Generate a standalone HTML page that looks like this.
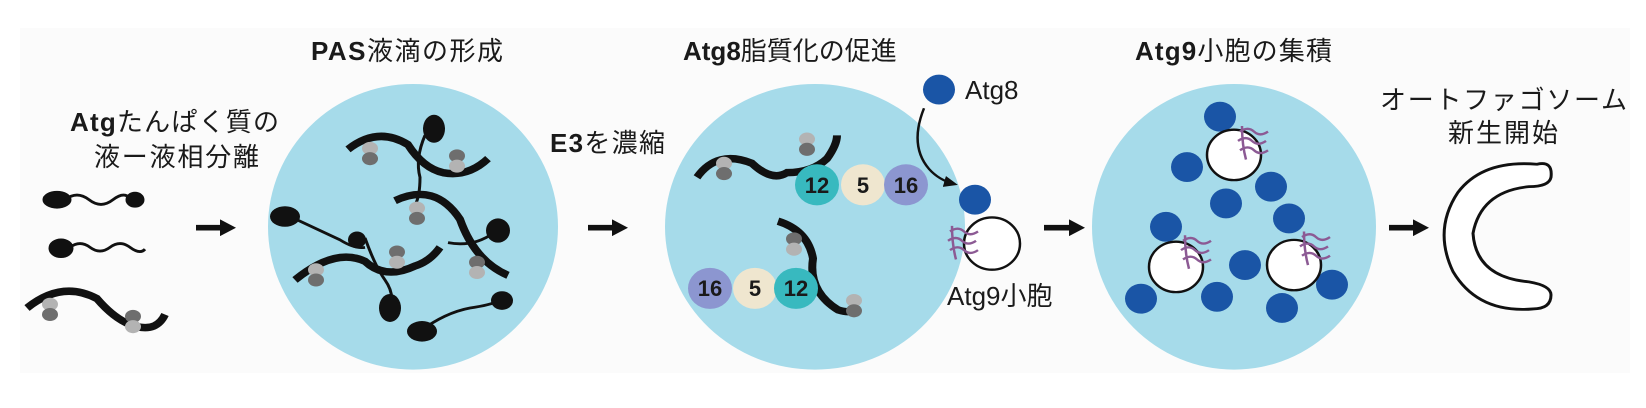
<!DOCTYPE html>
<html><head><meta charset="utf-8"><style>
body{margin:0;background:#fff}
svg{display:block}
text{font-family:"Liberation Sans","Noto Sans CJK JP",sans-serif;font-size:26px;fill:#1a1a1a}
.b{font-weight:bold}
.n{font-size:22px}
</style></head><body>
<svg width="1646" height="408" viewBox="0 0 1646 408" xmlns="http://www.w3.org/2000/svg">
<defs>
<marker id="ah" markerUnits="userSpaceOnUse" markerWidth="16" markerHeight="18" refX="4" refY="9" orient="auto"><path d="M0,0 L16,9 L0,18 z" fill="#111"/></marker>
<marker id="ah2" markerUnits="userSpaceOnUse" markerWidth="14" markerHeight="12" refX="10" refY="6" orient="auto"><path d="M0,0 L14,6 L0,12 z" fill="#111"/></marker>
<g id="dim"><ellipse cx="0" cy="-6" rx="8" ry="7" fill="#b3b3b3"/><ellipse cx="0" cy="5" rx="8" ry="7" fill="#6e6e6e"/></g>
<g id="dimr"><ellipse cx="0" cy="-6" rx="8" ry="7" fill="#6e6e6e"/><ellipse cx="0" cy="5" rx="8" ry="7" fill="#b3b3b3"/></g>
<g id="sq"><path d="M-12,-14 q8,-6 14,0 t14,0 M-14,-4 q8,-6 14,0 t14,0 M-12,6 q8,-6 14,0 t14,0 M-10,-20 q0,20 4,36" stroke="#8c5a94" stroke-width="2.5" fill="none"/></g>
</defs>
<rect x="20" y="28" width="1610" height="345" fill="#fbfbfb"/>
<g transform="scale(1,0.9333)">
<g stroke="#111" stroke-width="6">
<line x1="196" y1="244" x2="224" y2="244" marker-end="url(#ah)"/>
<line x1="588" y1="244" x2="616" y2="244" marker-end="url(#ah)"/>
<line x1="1044" y1="244" x2="1073" y2="244" marker-end="url(#ah)"/>
<line x1="1389" y1="244" x2="1417" y2="244" marker-end="url(#ah)"/>
</g>
<g fill="#111" stroke="#111">
<ellipse cx="57" cy="214" rx="14" ry="9"/><ellipse cx="135" cy="214" rx="9" ry="8"/>
<path d="M65,214 q12,-10 24,0 t24,0 t18,0" stroke-width="3" fill="none"/>
<ellipse cx="61" cy="266" rx="12" ry="10"/>
<path d="M70,265 q10,-8 20,0 t20,0 t20,0 t15,2" stroke-width="3" fill="none"/>
<path d="M27,330 q35,-30 70,-10 q20,25 40,30 q20,5 28,-13" stroke-width="8" fill="none"/>
</g>
<use href="#dim" x="50" y="332"/><use href="#dimr" x="133" y="345"/>
<ellipse cx="413" cy="243" rx="145" ry="153" fill="#a6dbea"/>
<g stroke="#111" fill="none" stroke-width="8">
<path d="M348,160 q30,-25 60,-5 q15,25 35,30 q25,5 45,-15"/>
<path d="M395,215 q40,-20 65,20 q15,45 48,60"/>
<path d="M295,300 q40,-35 70,-20 q20,20 50,5 q15,-5 25,-20"/>
</g>
<g stroke="#111" fill="none" stroke-width="3">
<path d="M425,145 q-10,25 -5,45 q0,20 -5,30"/>
<path d="M290,232 q30,15 50,25 q15,10 25,8"/>
<path d="M365,255 q10,30 20,45 q10,15 5,30"/>
<path d="M448,260 q25,5 45,-10"/>
<path d="M420,355 q25,-20 50,-25 q20,-3 30,-8"/>
</g>
<g fill="#111">
<ellipse cx="434" cy="138" rx="11" ry="15"/><ellipse cx="285" cy="232" rx="15" ry="11"/>
<ellipse cx="357" cy="257" rx="9" ry="9"/><ellipse cx="498" cy="247" rx="12" ry="13"/>
<ellipse cx="390" cy="330" rx="11" ry="15"/><ellipse cx="422" cy="355" rx="15" ry="11"/>
<ellipse cx="502" cy="322" rx="11" ry="10"/>
</g>
<use href="#dim" x="370" y="165"/><use href="#dimr" x="457" y="173"/><use href="#dim" x="417" y="229"/>
<use href="#dimr" x="397" y="276"/><use href="#dim" x="316" y="295"/><use href="#dimr" x="477" y="287"/>
<ellipse cx="815" cy="243" rx="150" ry="153" fill="#a6dbea"/>
<g stroke="#111" fill="none" stroke-width="8">
<path d="M697,190 q20,-30 55,-15 q20,20 35,10 q25,0 40,-15 q10,-15 10,-25"/>
<path d="M778,237 q30,10 35,40 q-5,35 25,55 q15,5 18,-3"/>
</g>
<use href="#dim" x="724" y="181"/><use href="#dim" x="807" y="155"/><use href="#dimr" x="794" y="262"/><use href="#dim" x="854" y="328"/>
<circle cx="817" cy="198" r="22" fill="#38b9bf"/><circle cx="863" cy="198" r="22" fill="#efe6cf"/><circle cx="906" cy="198" r="22" fill="#8c96d0"/>
<circle cx="710" cy="309" r="22" fill="#8c96d0"/><circle cx="755" cy="309" r="22" fill="#efe6cf"/><circle cx="796" cy="309" r="22" fill="#38b9bf"/>
<circle cx="939" cy="96" r="16" fill="#1a55a6"/>
<path d="M924,116 q-15,40 5,65 q10,12 25,16" stroke="#111" stroke-width="2.5" fill="none" marker-end="url(#ah2)"/>
<circle cx="975" cy="214" r="16" fill="#1a55a6"/>
<circle cx="992" cy="261" r="28" fill="#fff" stroke="#111" stroke-width="2.5"/>
<use href="#sq" x="962" y="262"/>
<ellipse cx="1234" cy="243" rx="142" ry="153" fill="#a6dbea"/>
<g fill="#1a55a6">
<circle cx="1220" cy="125" r="16"/><circle cx="1187" cy="179" r="16"/><circle cx="1271" cy="200" r="16"/>
<circle cx="1226" cy="218" r="16"/><circle cx="1166" cy="243" r="16"/><circle cx="1289" cy="234" r="16"/>
<circle cx="1245" cy="284" r="16"/><circle cx="1141" cy="320" r="16"/><circle cx="1217" cy="318" r="16"/>
<circle cx="1282" cy="330" r="16"/><circle cx="1332" cy="305" r="16"/>
</g>
<g fill="#fff" stroke="#111" stroke-width="2.5">
<circle cx="1234" cy="166" r="27"/><circle cx="1176" cy="286" r="27"/><circle cx="1294" cy="284" r="27"/>
</g>
<use href="#sq" x="1252" y="155"/><use href="#sq" x="1195" y="272"/><use href="#sq" x="1314" y="268"/>
<path d="M1537,176 q16,-4 14,14 q-2,10 -22,10 q-48,5 -56,50 q3,47 56,52 q22,4 22,14 q0,15 -18,15 q-55,5 -80,-40 q-20,-45 5,-85 q25,-35 79,-30 z" fill="#fff" stroke="#111" stroke-width="3"/>
</g>
<text x="311" y="60" textLength="192"><tspan class="b">PAS</tspan>液滴の形成</text>
<text x="70" y="131" textLength="209"><tspan class="b">Atg</tspan>たんぱく質の</text>
<text x="94" y="166" textLength="165">液ー液相分離</text>
<text x="683" y="60"><tspan class="b">Atg8</tspan>脂質化の促進</text>
<text x="550" y="152" textLength="115"><tspan class="b">E3</tspan>を濃縮</text>
<text x="965" y="99">Atg8</text>
<text x="947" y="305">Atg9小胞</text>
<text x="1135" y="60" textLength="197"><tspan class="b">Atg9</tspan>小胞の集積</text>
<text x="1380" y="109" textLength="247">オートファゴソーム</text>
<text x="1448" y="142" textLength="110">新生開始</text>
<g text-anchor="middle">
<text x="817" y="193" class="b n">12</text><text x="863" y="193" class="b n">5</text><text x="906" y="193" class="b n">16</text>
<text x="710" y="296" class="b n">16</text><text x="755" y="296" class="b n">5</text><text x="796" y="296" class="b n">12</text>
</g>
</svg>
</body></html>
